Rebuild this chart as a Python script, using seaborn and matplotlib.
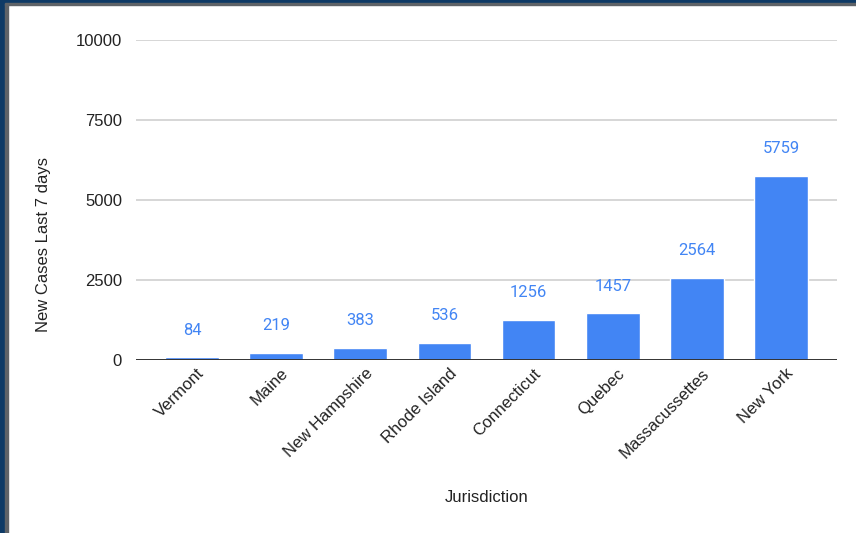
import pandas as pd
import matplotlib
matplotlib.use("Agg")
import matplotlib.pyplot as plt
import matplotlib.transforms as mtransforms
from matplotlib.patches import Rectangle
import seaborn as sns

# Data
jurisdictions = ["Vermont", "Maine", "New Hampshire", "Rhode Island",
                 "Connecticut", "Quebec", "Massacussettes", "New York"]
new_cases = [84, 219, 383, 536, 1256, 1457, 2564, 5759]
y_ticks = [0, 2500, 5000, 7500, 10000]

bar_color = "#4285f4"

sns.set_theme(style="white")
plt.rcParams["font.family"] = ["Liberation Sans", "DejaVu Sans"]

df = pd.DataFrame({"Jurisdiction": jurisdictions, "Cases": new_cases})

W, H = 856, 533
fig = plt.figure(figsize=(W / 100, H / 100), dpi=100)
fig.patch.set_facecolor("white")
ax = fig.add_axes([136 / W, 1 - 360 / H, (837 - 136) / W, 320 / H])

sns.barplot(data=df, x="Jurisdiction", y="Cases", color=bar_color,
            saturation=1, width=0.64, ax=ax, zorder=3)

ax.set_ylim(0, 10000)
ax.set_xlim(-0.666, len(jurisdictions) - 1 + 0.666)
ax.set_yticks(y_ticks)
ax.set_yticklabels([str(t) for t in y_ticks], fontsize=12, color="#222222")
ax.tick_params(axis="y", length=0, pad=10)
ax.tick_params(axis="x", length=0)

# gridlines and baseline
for t in y_ticks[1:]:
    ax.axhline(t, color="#cccccc", lw=1.1, zorder=1)
ax.axhline(0, color="#333333", lw=1.4, zorder=4)
for s in ax.spines.values():
    s.set_visible(False)

# rotated category labels
ax.set_xticks(range(len(jurisdictions)))
ax.set_xticklabels(jurisdictions, rotation=45, ha="right", va="center",
                   rotation_mode="anchor", fontsize=12, color="#222222")
ax.tick_params(axis="x", pad=8)
offset = mtransforms.ScaledTranslation(7 / 72, 0, fig.dpi_scale_trans)
for lab in ax.get_xticklabels():
    lab.set_transform(lab.get_transform() + offset)

# value labels above bars
for i, v in enumerate(new_cases):
    ax.annotate(str(v), (i, v), xytext=(0, 19.5), textcoords="offset points",
                ha="center", va="center", fontsize=12, color=bar_color,
                family=["Roboto", "DejaVu Sans"])

ax.set_xlabel("Jurisdiction", fontsize=12, color="#222222")
ax.set_ylabel("New Cases Last 7 days", fontsize=12, color="#222222")
ax.xaxis.set_label_coords(0.5, (360 - 497) / 320)
ax.xaxis.label.set_va("center")
ax.yaxis.set_label_coords((44 - 136) / 701, (360 - 245) / 320)
ax.yaxis.label.set_va("center")

# dark frame at the left and top edges
navy = "#0e3a66"
grey = "#5f6368"
fig.patches.append(Rectangle((0, 0), 5 / W, 1, transform=fig.transFigure,
                             color=navy, zorder=10))
fig.patches.append(Rectangle((5 / W, 0), 3 / W, 1, transform=fig.transFigure,
                             color=grey, zorder=10))
fig.patches.append(Rectangle((0, 1 - 3 / H), 1, 3 / H, transform=fig.transFigure,
                             color=navy, zorder=10))
fig.patches.append(Rectangle((5 / W, 1 - 5 / H), 1, 2 / H, transform=fig.transFigure,
                             color=grey, zorder=10))

fig.savefig("out.png", dpi=100)
